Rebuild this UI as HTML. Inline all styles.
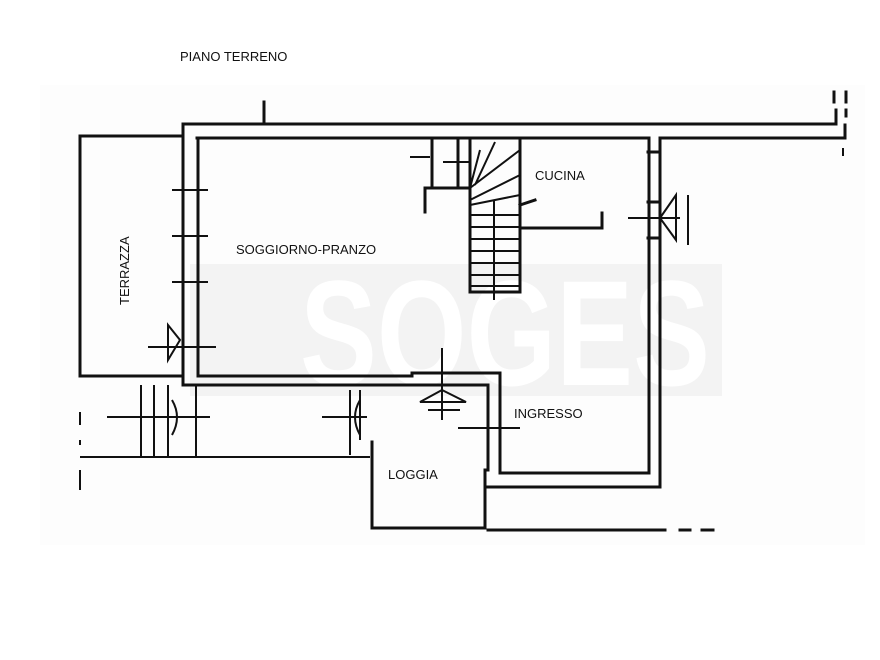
<!DOCTYPE html>
<html><head><meta charset="utf-8"><style>
html,body{margin:0;padding:0;background:#fff;}
svg{display:block}
text{font-family:"Liberation Sans",sans-serif;font-size:13px;fill:#111}
</style></head><body>
<svg width="880" height="660" viewBox="0 0 880 660" xmlns="http://www.w3.org/2000/svg">
<rect x="40" y="85" width="825" height="460" fill="#fdfdfd"/>
<rect x="190" y="264" width="532" height="132" fill="#f3f3f3"/>
<text x="300" y="385" style="font-size:150px;font-weight:bold;fill:#fff" textLength="410" lengthAdjust="spacingAndGlyphs">SOGES</text>
<g stroke="#111" stroke-width="3" fill="none" stroke-linecap="square">
<!-- top walls -->
<path d="M183 124 H836 V110"/>
<path d="M846 92 V102 M846 110 V116 M834 92 V102"/>
<path d="M197 138 H648 M660 138 H845 V125"/>
<path d="M264 102 V124"/>
<!-- terrazza -->
<path d="M183 136 H80 V376 H183"/>
<!-- column -->
<path d="M183 124 V385 M198 138 V376"/>
<!-- soggiorno bottom -->
<path d="M198 376 H412 M183 385 H412"/>
<!-- ingresso box -->
<path d="M412 373 H500 V392 M412 385 H488 V400"/>
<path d="M488 400 V470 H485 V528 H372 V442"/>
<path d="M500 392 V473 H649 V138"/>
<path d="M488 487 H660 V138"/>
<path d="M660 152 H648 M660 202 H648 M660 238 H648"/>
<!-- bottom -->
<path d="M488 530 H665 M680 530 H690 M702 530 H713"/>
<!-- stairs -->
<path d="M432 138 V188 H470 M432 188 H425 V212"/>
<path d="M470 138 V292 M520 138 V292 M470 292 H520"/>
<path d="M458 138 V188"/>
<path d="M520 228 H602 V213"/>
<path d="M520 205 L535 200"/>
</g>
<g stroke="#111" stroke-width="2" fill="none">
<path d="M470 215 H520 M470 227 H520 M470 239 H520 M470 251 H520 M470 263 H520 M470 275 H520 M470 286 H520"/>
<path d="M494 200 V300"/>
<path d="M470 188 L520 150 M470 200 L520 175 M480 150 L470 188 M495 142 L475 185 M470 205 L520 195"/>
<path d="M410 157 H430 M443 162 H470"/>
<!-- terrazza door crosses -->
<path d="M172 190 H208 M172 236 H208 M172 282 H208"/>
<path d="M148 347 H216 M168 325 L180 340 L168 360 Z"/>
<!-- lower left -->
<path d="M80 457 H370 M141 385 V457 M154 385 V457 M168 385 V457 M196 385 V457"/>
<path d="M107 417 H210 M322 417 H367 M350 390 V455 M360 390 V440"/>
<path d="M172 400 Q182 417 172 435 M360 400 Q350 417 360 435"/>
<path d="M80 412 V425 M80 440 V445 M80 470 V490"/>
<!-- ingresso door -->
<path d="M442 348 V420 M420 402 L442 390 L466 402 Z M428 410 H460"/>
<path d="M458 428 H520"/>
<!-- east door -->
<path d="M628 218 H680 M688 195 V245 M660 218 L676 195 V240 Z"/>
<path d="M843 148 V156"/>
</g>
<text x="180" y="61">PIANO TERRENO</text>
<text x="236" y="254">SOGGIORNO-PRANZO</text>
<text x="535" y="180">CUCINA</text>
<text x="514" y="418">INGRESSO</text>
<text x="388" y="479">LOGGIA</text>
<text transform="translate(129,305) rotate(-90)">TERRAZZA</text>
</svg>
</body></html>
